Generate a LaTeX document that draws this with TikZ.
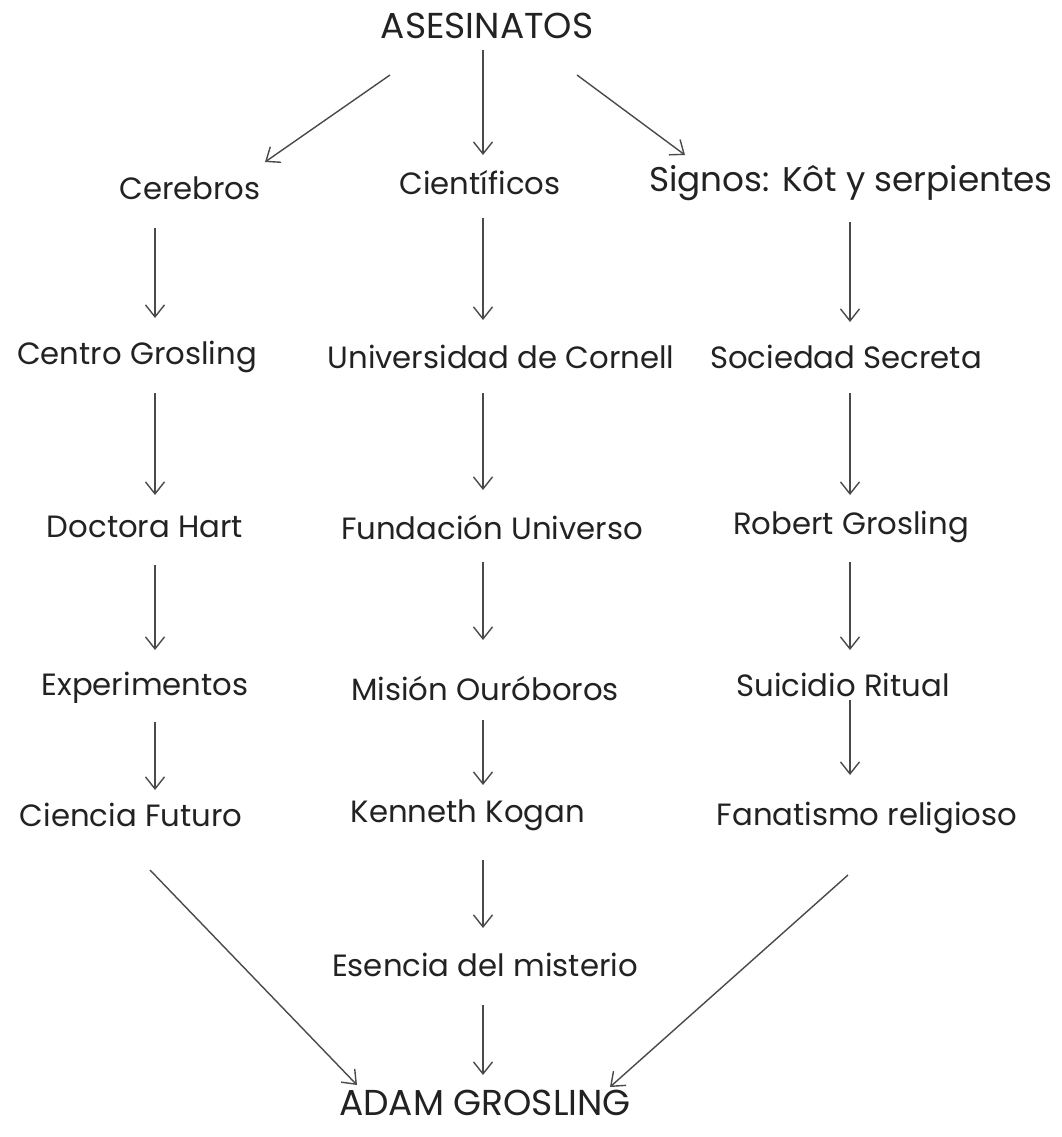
\documentclass[tikz,border=0pt]{standalone}
\usepackage{fontspec}
\setmainfont{Poppins}
\usetikzlibrary{arrows.meta,calc}
\definecolor{ink}{HTML}{222222}
\definecolor{lineink}{HTML}{4A4A4A}
\begin{document}
\begin{tikzpicture}[x=0.02cm,y=-0.02cm,
  lbl/.style={text=ink,inner sep=0pt,font=\fontsize{17.5}{20}\selectfont},
  capslbl/.style={text=ink,inner sep=0pt,font=\fontsize{20.5}{23}\selectfont},
  arr/.style={draw=lineink,line width=0.8pt,-{Straight Barb[length=0.24cm,width=0.38cm,line width=0.8pt]}}]
\useasboundingbox[fill=white] (0,0) rectangle (1062,1137);
\node[capslbl] (ases) at (487,26) {ASESINATOS};
\node[lbl] (cer) at (190,188) {Cerebros};
\node[lbl] (cie) at (480,183) {Científicos};
\node[lbl,font=\fontsize{19.5}{22}\selectfont] (sig) at (851,183) {Signos: Kôt y serpientes};
\node[lbl] (cen) at (137,357) {Centro Grosling};
\node[lbl] (uni) at (501,357) {Universidad de Cornell};
\node[lbl] (soc) at (846,357) {Sociedad Secreta};
\node[lbl] (doc) at (145,527) {Doctora Hart};
\node[lbl] (fun) at (492,527) {Fundación Universo};
\node[lbl] (rob) at (851,527) {Robert Grosling};
\node[lbl] (exp) at (145,688) {Experimentos};
\node[lbl] (mis) at (485,688) {Misión Ouróboros};
\node[lbl] (sui) at (843,685) {Suicidio Ritual};
\node[lbl] (cfu) at (131,815) {Ciencia Futuro};
\node[lbl] (ken) at (468,815) {Kenneth Kogan};
\node[lbl] (fan) at (867,818) {Fanatismo religioso};
\node[lbl] (ese) at (485,965) {Esencia del misterio};
\node[capslbl] (adam) at (485,1103) {ADAM GROSLING};
\draw[arr] ($(ases)+(-97,49)$) -- ($(cer)+(75,-26)$);
\draw[arr] ($(ases)+(-4,24)$) -- ($(cie)+(3,-28)$);
\draw[arr] ($(ases)+(90,49)$) -- ($(sig)+(-166,-28)$);
\draw[arr] ($(cer)+(-35,40)$) -- ($(cen)+(18,-39)$);
\draw[arr] ($(cie)+(3,35)$) -- ($(uni)+(-18,-37)$);
\draw[arr] ($(sig)+(-1,39)$) -- ($(soc)+(4,-35)$);
\draw[arr] ($(cen)+(18,36)$) -- ($(doc)+(10,-32)$);
\draw[arr] ($(uni)+(-18,36)$) -- ($(fun)+(-9,-37)$);
\draw[arr] ($(soc)+(4,36)$) -- ($(rob)+(-1,-32)$);
\draw[arr] ($(doc)+(10,38)$) -- ($(exp)+(10,-38)$);
\draw[arr] ($(fun)+(-9,35)$) -- ($(mis)+(-2,-48)$);
\draw[arr] ($(rob)+(-1,35)$) -- ($(sui)+(7,-35)$);
\draw[arr] ($(exp)+(10,34)$) -- ($(cfu)+(24,-25)$);
\draw[arr] ($(mis)+(-2,32)$) -- ($(ken)+(15,-30)$);
\draw[arr] ($(sui)+(7,15)$) -- ($(fan)+(-17,-43)$);
\draw[arr] ($(cfu)+(19,55)$) -- ($(adam)+(-128,-18)$);
\draw[arr] ($(ken)+(15,45)$) -- ($(ese)+(-2,-37)$);
\draw[arr] ($(ese)+(-2,40)$) -- ($(adam)+(-2,-28)$);
\draw[arr] ($(fan)+(-19,57)$) -- ($(adam)+(125,-16)$);
\end{tikzpicture}
\end{document}
